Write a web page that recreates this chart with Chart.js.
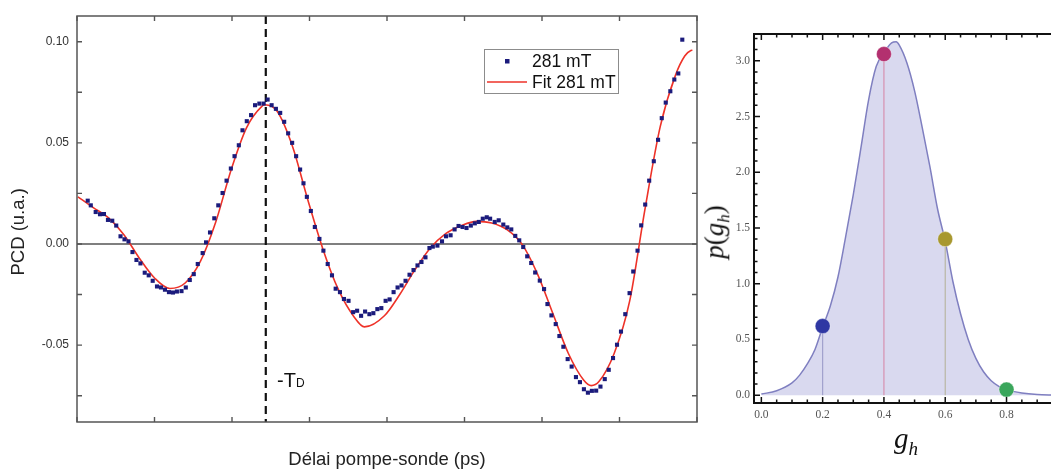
<!DOCTYPE html>
<html>
<head>
<meta charset="utf-8">
<script src="https://cdn.jsdelivr.net/npm/chart.js@4.4.0/dist/chart.umd.min.js"></script>
<style>
html, body { margin: 0; padding: 0; background: #fff; overflow: hidden; width: 1051px; height: 473px; }
#left { position: absolute; left: 0; top: 0; width: 705px; height: 473px; }
#right { position: absolute; left: 705px; top: 0; width: 375px; height: 473px; }
.lbl { position: absolute; white-space: nowrap; line-height: 1; }
.math { font-family: 'Liberation Serif', 'DejaVu Serif', serif; color: #111; }
</style>
</head>
<body>
<div id="left"><canvas id="graph1"></canvas></div>
<div id="right"><canvas id="graph2"></canvas></div>
<div class="lbl" style="left:277px; top:369px; font:20px 'Liberation Sans', Arial, sans-serif; color:#111;">-T<span style="font-size:12px;">D</span></div>
<div class="lbl math" style="left:717px; top:232px; font-size:27px; transform:translate(-50%,-50%) rotate(-90deg);"><i>p</i>(<i>g</i><sub style="font-size:17px; font-style:italic;">h</sub>)</div>
<div class="lbl math" style="left:906px; top:441px; font-size:29px; transform:translate(-50%,-50%);"><i>g</i><sub style="font-size:19px; font-style:italic;">h</sub></div>
<script>
// left panel: measured PCD vs pump-probe delay
const delayPs = [
  -1968, -1958, -1942, -1928, -1915, -1902, -1888, -1875, -1861, -1848,
  -1835, -1822, -1809, -1796, -1782, -1769, -1756, -1742, -1729, -1716,
  -1703, -1690, -1677, -1662, -1648, -1635, -1622, -1609, -1593, -1582,
  -1569, -1555, -1542, -1528, -1515, -1501, -1489, -1475, -1463, -1449,
  -1435, -1422, -1408, -1394, -1381, -1368, -1354, -1340, -1327, -1314,
  -1301, -1288, -1275, -1264, -1253, -1240, -1227, -1212, -1199, -1185,
  -1171, -1159, -1145, -1132, -1117, -1102, -1089, -1076, -1063, -1049,
  -1036, -1023, -1010, -996, -983, -970, -957, -944, -931, -918,
  -905, -892, -879, -866, -853, -842, -827, -812, -799, -784,
  -771, -758, -745, -732, -718, -705, -692, -679, -666, -655,
  -640, -627, -612, -599, -586, -573, -560, -547, -534, -521,
  -508, -493, -479, -468, -455, -441, -429, -416, -402, -389,
  -375, -362, -349, -336, -323, -309, -295, -281, -268, -254,
  -241, -228, -214, -200, -188, -174, -162, -149, -136, -121,
  -107, -95, -82, -67, -54, -41, -28
];
const pcd = [
  0.0214, 0.0191, 0.0158, 0.0147, 0.0148, 0.0119, 0.0115, 0.0091, 0.0038, 0.0023,
  0.0013, -0.0040, -0.0079, -0.0096, -0.0142, -0.0155, -0.0182, -0.0210, -0.0215, -0.0226,
  -0.0238, -0.0240, -0.0235, -0.0233, -0.0215, -0.0178, -0.0149, -0.0099, -0.0045, 0.0008,
  0.0057, 0.0127, 0.0191, 0.0252, 0.0313, 0.0373, 0.0434, 0.0488, 0.0562, 0.0607,
  0.0637, 0.0686, 0.0694, 0.0694, 0.0714, 0.0686, 0.0668, 0.0648, 0.0604, 0.0547,
  0.0500, 0.0434, 0.0368, 0.0300, 0.0233, 0.0163, 0.0084, 0.0025, -0.0033, -0.0099,
  -0.0155, -0.0221, -0.0238, -0.0272, -0.0281, -0.0337, -0.0330, -0.0355, -0.0334, -0.0347,
  -0.0342, -0.0322, -0.0317, -0.0281, -0.0274, -0.0238, -0.0215, -0.0205, -0.0182, -0.0152,
  -0.0129, -0.0106, -0.0089, -0.0066, -0.0020, -0.0013, -0.0008, 0.0013, 0.0038, 0.0043,
  0.0072, 0.0089, 0.0084, 0.0079, 0.0091, 0.0102, 0.0109, 0.0125, 0.0132, 0.0125,
  0.0109, 0.0117, 0.0096, 0.0082, 0.0072, 0.0040, 0.0018, -0.0015, -0.0061, -0.0094,
  -0.0141, -0.0181, -0.0223, -0.0297, -0.0353, -0.0396, -0.0455, -0.0508, -0.0569, -0.0606,
  -0.0658, -0.0683, -0.0718, -0.0735, -0.0726, -0.0725, -0.0705, -0.0668, -0.0622, -0.0564,
  -0.0498, -0.0433, -0.0347, -0.0243, -0.0136, -0.0033, 0.0092, 0.0195, 0.0313, 0.0409,
  0.0515, 0.0622, 0.0699, 0.0755, 0.0813, 0.0843, 0.1010
];
const fitPs = [
  -2000, -1950, -1900, -1850, -1800, -1750, -1700, -1650, -1600, -1550,
  -1500, -1450, -1400, -1390, -1350, -1300, -1250, -1200, -1150, -1100,
  -1065, -1000, -950, -900, -850, -800, -750, -700, -650, -600,
  -550, -500, -450, -400, -350, -325, -300, -250, -200, -150,
  -100, -50, -20, 0, 5
];
const fitPcd = [
  0.0233, 0.0180, 0.0129, 0.0046, -0.0069, -0.0168, -0.0220, -0.0193, -0.0085, 0.0110,
  0.0367, 0.0574, 0.0680, 0.0688, 0.0656, 0.0483, 0.0219, -0.0028, -0.0226, -0.0358,
  -0.0410, -0.0355, -0.0250, -0.0127, -0.0020, 0.0051, 0.0090, 0.0112, 0.0104, 0.0071,
  -0.0003, -0.0150, -0.0345, -0.0540, -0.0672, -0.0700, -0.0680, -0.0540, -0.0284, 0.0170,
  0.0580, 0.0835, 0.0929, 0.0957, 0.0958
];
const tdPs = -1387;

// right panel: distribution p(g_h)
const gh = [
  0.00, 0.05, 0.10, 0.125, 0.15, 0.175, 0.20, 0.225, 0.25, 0.275,
  0.30, 0.325, 0.35, 0.375, 0.40, 0.425, 0.44, 0.45, 0.475, 0.50,
  0.525, 0.55, 0.575, 0.60, 0.625, 0.65, 0.675, 0.70, 0.725, 0.75,
  0.775, 0.80, 0.85, 0.90, 0.95, 1.00
];
const pgh = [
  0.01, 0.04, 0.11, 0.18, 0.28, 0.41, 0.61, 0.80, 1.06, 1.42,
  1.80, 2.22, 2.65, 2.95, 3.07, 3.16, 3.17, 3.14, 2.98, 2.73,
  2.40, 2.05, 1.67, 1.38, 1.02, 0.73, 0.50, 0.33, 0.21, 0.13,
  0.08, 0.05, 0.02, 0.006, 0.002, 0.0
];
const markGh = [0.2, 0.4, 0.6, 0.8];
const markP = [0.62, 3.06, 1.40, 0.05];
const markColors = ['#2f37a3', '#b3306f', '#a8982f', '#3aa65b'];
const stemColors = ['#a0a0cc', '#d690b0', '#b9b7a4', '#9fcfae'];

Chart.defaults.font.family = "'Liberation Sans', Arial, sans-serif";
Chart.defaults.animation = false;

function isMultiple(v, step) {
  const k = v / step;
  return Math.abs(k - Math.round(k)) < 1e-6;
}

// inward ticks on all four sides plus the box frame
const frameTicks = {
  id: 'frameTicks',
  afterDatasetsDraw(chart, args, opts) {
    const {ctx, chartArea: a, scales} = chart;
    ctx.save();
    ctx.strokeStyle = opts.color;
    ctx.lineWidth = opts.tickWidth;
    ctx.beginPath();
    scales.x.ticks.forEach(t => {
      const px = scales.x.getPixelForValue(t.value);
      if (px < a.left || px > a.right) return;
      const len = t.label ? opts.major : opts.minor;
      ctx.moveTo(px, a.bottom); ctx.lineTo(px, a.bottom - len);
      ctx.moveTo(px, a.top); ctx.lineTo(px, a.top + len);
    });
    scales.y.ticks.forEach(t => {
      const py = scales.y.getPixelForValue(t.value);
      if (py < a.top || py > a.bottom) return;
      const len = t.label ? opts.major : opts.minor;
      ctx.moveTo(a.left, py); ctx.lineTo(a.left + len, py);
      ctx.moveTo(a.right, py); ctx.lineTo(a.right - len, py);
    });
    ctx.stroke();
    ctx.lineWidth = opts.frameWidth;
    ctx.strokeRect(a.left, a.top, a.right - a.left, a.bottom - a.top);
    ctx.restore();
  }
};

// zero line and the dashed -T_D marker
const refLines = {
  id: 'refLines',
  beforeDatasetsDraw(chart) {
    const {ctx, chartArea: a, scales} = chart;
    ctx.save();
    const y0 = scales.y.getPixelForValue(0);
    ctx.strokeStyle = '#555';
    ctx.lineWidth = 1.5;
    ctx.beginPath(); ctx.moveTo(a.left, y0); ctx.lineTo(a.right, y0); ctx.stroke();
    const xd = scales.x.getPixelForValue(tdPs);
    ctx.strokeStyle = '#111';
    ctx.lineWidth = 2.2;
    ctx.setLineDash([8, 5]);
    ctx.beginPath(); ctx.moveTo(xd, a.top); ctx.lineTo(xd, a.bottom); ctx.stroke();
    ctx.restore();
  }
};

const boxLegend = {
  id: 'boxLegend',
  afterDraw(chart) {
    const ctx = chart.ctx;
    const ds = chart.data.datasets;
    ctx.save();
    ctx.fillStyle = '#fff';
    ctx.fillRect(484, 49, 134, 44);
    ctx.strokeStyle = '#8c8c8c';
    ctx.lineWidth = 1;
    ctx.strokeRect(484.5, 49.5, 134, 44);
    ctx.font = "17.5px 'Liberation Sans', Arial, sans-serif";
    ctx.textBaseline = 'middle';
    ctx.fillStyle = ds[0].backgroundColor;
    ctx.fillRect(505, 59, 4.5, 4.5);
    ctx.fillStyle = '#111';
    ctx.fillText(ds[0].label, 532, 62);
    ctx.strokeStyle = ds[1].borderColor;
    ctx.lineWidth = 1.5;
    ctx.beginPath(); ctx.moveTo(487, 82); ctx.lineTo(527, 82); ctx.stroke();
    ctx.fillText(ds[1].label, 532, 83);
    ctx.restore();
  }
};

// Chart 1 (PCD signal and fit)
const ctx1 = document.getElementById('graph1').getContext('2d');
new Chart(ctx1, {
  type: 'scatter',
  data: {
    datasets: [{
      label: '281 mT',
      data: delayPs.map((x, i) => ({x: x, y: pcd[i]})),
      pointStyle: 'rect',
      pointRadius: 2.9,
      pointBorderWidth: 0,
      backgroundColor: '#1b1b7c',
      borderColor: '#1b1b7c'
    }, {
      label: 'Fit 281 mT',
      data: fitPs.map((x, i) => ({x: x, y: fitPcd[i]})),
      showLine: true,
      pointRadius: 0,
      borderColor: '#ee3228',
      borderWidth: 1.6,
      cubicInterpolationMode: 'monotone'
    }]
  },
  options: {
    responsive: true,
    maintainAspectRatio: false,
    layout: {padding: {top: 16, right: 8, bottom: 0, left: 0}},
    plugins: {
      legend: {display: false},
      tooltip: {enabled: false},
      frameTicks: {color: '#555', tickWidth: 1.4, frameWidth: 1.5, major: 5, minor: 5}
    },
    scales: {
      x: {
        type: 'linear',
        min: -2003,
        max: 20,
        grid: {display: false, drawTicks: false},
        border: {display: false},
        ticks: {
          stepSize: 250,
          includeBounds: false,
          autoSkip: false,
          maxRotation: 0,
          padding: 7,
          color: '#333',
          font: {size: 12},
          callback: v => isMultiple(v, 500) ? String(v) : ''
        },
        title: {display: true, text: 'Délai pompe-sonde (ps)', color: '#222', font: {size: 18.5}, padding: {top: 0, bottom: 2}},
        afterFit: s => { s.height = 51; }
      },
      y: {
        min: -0.088,
        max: 0.1127,
        grid: {display: false, drawTicks: false},
        border: {display: false},
        ticks: {
          stepSize: 0.025,
          includeBounds: false,
          autoSkip: false,
          padding: 8,
          color: '#333',
          font: {size: 12},
          callback: v => isMultiple(v, 0.05) ? v.toFixed(2) : ''
        },
        title: {display: true, text: 'PCD (u.a.)     ', color: '#222', font: {size: 18.5}, padding: {top: 8, bottom: 0}},
        afterFit: s => { s.width = 77; }
      }
    }
  },
  plugins: [refLines, frameTicks, boxLegend]
});

// Chart 2 (distribution p(g_h))
const stemSets = markGh.map((g, i) => ({
  data: [{x: g, y: 0}, {x: g, y: markP[i]}],
  showLine: true,
  pointRadius: 0,
  borderColor: stemColors[i],
  borderWidth: 1.2
}));
const ctx2 = document.getElementById('graph2').getContext('2d');
new Chart(ctx2, {
  type: 'scatter',
  data: {
    datasets: [{
      data: markGh.map((g, i) => ({x: g, y: markP[i]})),
      pointRadius: 7.5,
      backgroundColor: markColors,
      borderColor: 'rgba(255,255,255,0.35)',
      borderWidth: 1
    }].concat(stemSets, [{
      data: gh.map((g, i) => ({x: g, y: pgh[i]})),
      showLine: true,
      pointRadius: 0,
      borderColor: '#7f7fc0',
      borderWidth: 1.5,
      backgroundColor: 'rgba(170,170,220,0.45)',
      fill: 'origin',
      cubicInterpolationMode: 'monotone'
    }])
  },
  options: {
    responsive: true,
    maintainAspectRatio: false,
    layout: {padding: {top: 34, right: 4, bottom: 0, left: 0}},
    plugins: {
      legend: {display: false},
      tooltip: {enabled: false},
      frameTicks: {color: '#111', tickWidth: 1.5, frameWidth: 2, major: 6, minor: 3.5}
    },
    scales: {
      x: {
        type: 'linear',
        min: -0.024,
        max: 1.0,
        grid: {display: false, drawTicks: false},
        border: {display: false},
        ticks: {
          stepSize: 0.05,
          includeBounds: false,
          autoSkip: false,
          maxRotation: 0,
          padding: 5,
          color: '#555',
          font: {size: 11.5, family: "'Liberation Serif', serif"},
          callback: v => isMultiple(v, 0.2) ? v.toFixed(1) : ''
        },
        afterFit: s => { s.height = 70; }
      },
      y: {
        min: -0.07,
        max: 3.24,
        grid: {display: false, drawTicks: false},
        border: {display: false},
        ticks: {
          stepSize: 0.1,
          includeBounds: false,
          autoSkip: false,
          padding: 4,
          color: '#555',
          font: {size: 11.5, family: "'Liberation Serif', serif"},
          callback: v => isMultiple(v, 0.5) ? v.toFixed(1) : ''
        },
        afterFit: s => { s.width = 49; }
      }
    }
  },
  plugins: [frameTicks]
});
</script>
</body>
</html>
